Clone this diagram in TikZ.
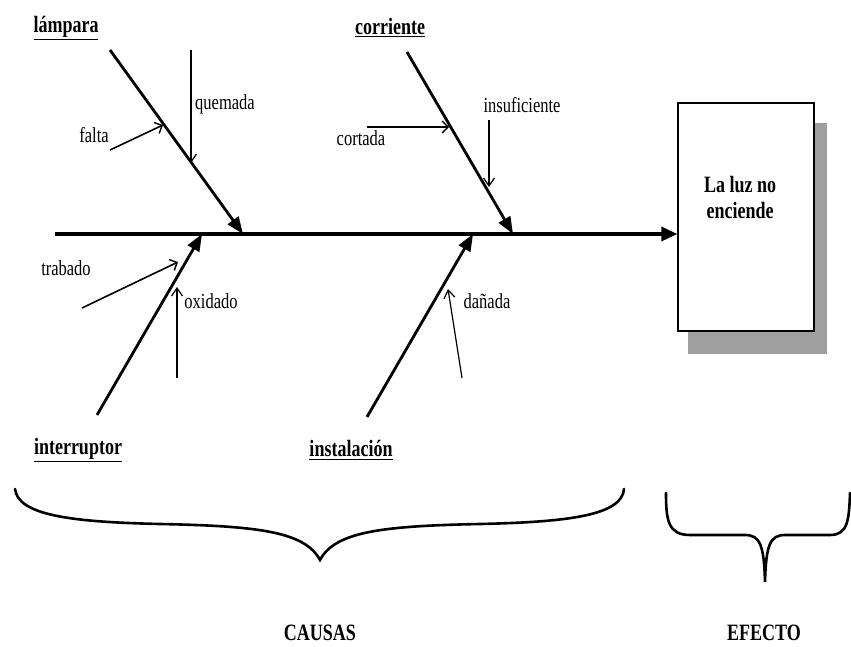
\documentclass[tikz,border=0pt]{standalone}
\usepackage{graphicx}
\usepackage{fontspec}
\setmainfont{Liberation Serif}
\usetikzlibrary{arrows.meta}
\newcommand{\vst}[1]{\scalebox{1}[1.3]{#1}}
\tikzset{
  spine/.style={line width=3.2pt,-{Triangle[length=16pt,width=14pt]}},
  bone/.style={line width=2.8pt,-{Triangle[length=17pt,width=13pt]}},
  sub/.style={line width=1.6pt,-{Straight Barb[length=6pt,width=12pt,line width=1.4pt]}},
  thin/.style={line width=1.2pt,-{Straight Barb[length=8pt,width=11pt,line width=1.2pt]}},
  lbl/.style={inner sep=0pt,font=\fontsize{16.5}{18}\selectfont},
  cat/.style={inner sep=0pt,font=\fontsize{18}{20}\selectfont\bfseries},
  brace/.style={line width=2.6pt,line cap=round}
}
\begin{document}
\begin{tikzpicture}[x=1pt,y=-1pt]
\useasboundingbox (0,0) rectangle (851,647);
% effect box with shadow
\fill[gray!75] (688,123) rectangle (827,354);
\node[draw,fill=white,line width=1.3pt,minimum width=136pt,minimum height=228pt,inner sep=0pt] (effect) at (746,217) {};
\node[cat,align=center] (efftext) at (740,197) {\vst{La luz no}\\[6pt]\vst{enciende}};
% spine
\coordinate (spL) at (55,234);
\draw[spine] (spL) -- (spL -| effect.west);
% tips on spine
\coordinate (t1) at (243,234);
\coordinate (t2) at (513,234);
\coordinate (t3) at (202,234);
\coordinate (t4) at (473,234);
% lampara
\node[cat] (lamp) at (66,28) {\vst{\underline{lámpara}}};
\coordinate (lampS) at (110,50);
\draw[bone] (lampS) -- (t1);
\node[lbl] (quem) at (225,104) {\vst{quemada}};
\coordinate (quemS) at (191,50);
\coordinate (quemE) at (191,163);
\draw[thin] (quemS) -- (quemE);
\node[lbl] (falta) at (94,135) {\vst{falta}};
\coordinate (faltaS) at (110,150);
\coordinate (faltaE) at (163,125);
\draw[sub] (faltaS) -- (faltaE);
% corriente
\node[cat] (corr) at (390,28) {\vst{\underline{corriente}}};
\coordinate (corrS) at (407,52);
\draw[bone] (corrS) -- (t2);
\node[lbl] (insuf) at (522,105) {\vst{insuficiente}};
\coordinate (insufS) at (489,120);
\coordinate (insufE) at (489,187);
\draw[thin] (insufS) -- (insufE);
\node[lbl] (cort) at (361,138) {\vst{cortada}};
\coordinate (cortS) at (367,127);
\coordinate (cortE) at (449,127);
\draw[sub,line width=1.3pt] (cortS) -- (cortE);
% interruptor
\node[cat] (inter) at (78,450) {\vst{\underline{interruptor}}};
\coordinate (interS) at (97,415);
\draw[bone] (interS) -- (t3);
\node[lbl] (trab) at (66,268) {\vst{trabado}};
\coordinate (trabS) at (82,308);
\coordinate (trabE) at (178,262);
\draw[sub] (trabS) -- (trabE);
\node[lbl] (oxid) at (211,301) {\vst{oxidado}};
\coordinate (oxidS) at (177,378);
\coordinate (oxidE) at (177,287);
\draw[thin] (oxidS) -- (oxidE);
% instalacion
\node[cat] (inst) at (351,450) {\vst{\underline{instalación}}};
\coordinate (instS) at (367,417);
\draw[bone] (instS) -- (t4);
\node[lbl] (dan) at (487,301) {\vst{dañada}};
\coordinate (danS) at (462,378);
\coordinate (danE) at (448,289);
\draw[thin] (danS) -- (danE);
% braces
\draw[brace] (15,489) .. controls (18,515) and (70,522) .. (160,524)
  .. controls (260,526) and (305,532) .. (320,560)
  .. controls (335,532) and (380,526) .. (480,524)
  .. controls (570,522) and (622,515) .. (624,489);
\draw[brace] (666,493) .. controls (666,520) and (668,535) .. (690,535)
  -- (745,535) .. controls (760,535) and (764,545) .. (765,582)
  .. controls (766,545) and (770,535) .. (785,535)
  -- (830,535) .. controls (848,535) and (849,520) .. (850,493);
\node[cat] (causas) at (320,633) {\vst{CAUSAS}};
\node[cat] (efecto) at (764,633) {\vst{EFECTO}};
\end{tikzpicture}
\end{document}
